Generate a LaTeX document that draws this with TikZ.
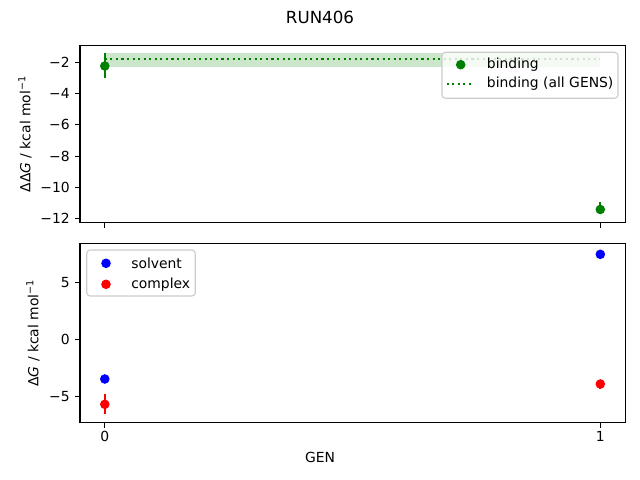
\documentclass[tikz,border=0pt]{standalone}
\usepackage{fontspec}
\setmainfont{DejaVu Sans}
\usepackage{tikz}

\definecolor{mplgreen}{HTML}{008000}
\definecolor{mplblue}{HTML}{0000FF}
\definecolor{mplred}{HTML}{FF0000}
\definecolor{legframe}{HTML}{CCCCCC}

\begin{document}
\begin{tikzpicture}[x=0.72pt,y=-0.72pt,
    spine/.style={line width=0.8pt},
    tickmark/.style={line width=0.8pt},
    lbl/.style={inner sep=0pt, font=\fontsize{10}{12}\selectfont},
    errbar/.style={line width=1.5pt},
    legbox/.style={draw=legframe, fill=white, fill opacity=0.8, rounded corners=2.5pt, line width=0.8pt}]
             \useasboundingbox (0,0) rectangle (640,480);

             \node[lbl, font=\fontsize{12}{14}\selectfont] (title) at (320, 17) {RUN406};

             % top panel: binding
             \fill[mplgreen, opacity=0.2] (104.8, 53.3) rectangle (600.3, 66.7);
             \draw[mplgreen, line width=1.5pt, dash pattern=on 1.5pt off 2.5pt] (104.8, 59) -- (600.3, 59);
             \draw[mplgreen, errbar] (104.8, 53.3) -- (104.8, 78.3);
             \fill[mplgreen] (104.8, 66) circle (4.8);
             \draw[mplgreen, errbar] (600.3, 202) -- (600.3, 214);
             \fill[mplgreen] (600.3, 209.5) circle (4.8);

             \draw[spine] (80, 45.3) rectangle (625.7, 222.7);
             \foreach \v/\y in {-2/62.3, -4/93.6, -6/124.9, -8/156.2, -10/187.5, -12/218.7} {
                 \draw[tickmark] (80, \y) -- (75.1, \y);
                 \node[lbl, anchor=east] at (70, \y) {−\the\numexpr-\v\relax};
             }
             \foreach \x in {104.8, 600.3}
                 \draw[tickmark] (\x, 222.7) -- (\x, 227.6);
             \node[lbl, rotate=90] (ylabtop) at (25, 134) {ΔΔ\textit{G} / kcal mol\textsuperscript{−1}};

             \draw[legbox] (442, 52.3) rectangle (618, 98.3);
             \fill[mplgreen] (460.7, 64.7) circle (4.8);
             \draw[mplgreen, line width=1.5pt, dash pattern=on 1.5pt off 2.5pt] (446.7, 84) -- (473, 84);
             \node[lbl, anchor=west] (legbind) at (486.7, 64.7) {binding};
             \node[lbl, anchor=west] (legall) at (486.7, 84) {binding (all GENS)};

             % bottom panel: solvent and complex
             \fill[mplblue] (104.8, 379) circle (4.8);
             \draw[mplred, errbar] (104.8, 394.3) -- (104.8, 413.7);
             \fill[mplred] (104.8, 404.3) circle (4.8);
             \fill[mplblue] (600.3, 254.3) circle (4.8);
             \draw[mplred, errbar] (600.3, 379.5) -- (600.3, 388.5);
             \fill[mplred] (600.3, 384) circle (4.8);

             \draw[spine] (80, 243.3) rectangle (625.7, 422.7);
             \foreach \y/\t in {282.3/5, 339.3/0, 396.3/−5} {
                 \draw[tickmark] (80, \y) -- (75.1, \y);
                 \node[lbl, anchor=east] at (70, \y) {\t};
             }
             \foreach \x/\t in {104.8/0, 600.3/1} {
                 \draw[tickmark] (\x, 422.7) -- (\x, 427.6);
                 \node[lbl] at (\x, 436.7) {\t};
             }
             \node[lbl, rotate=90] (ylabbot) at (33, 333) {Δ\textit{G} / kcal mol\textsuperscript{−1}};
             \node[lbl] (xlab) at (320, 457) {GEN};

             \draw[legbox] (86.7, 250) rectangle (195.3, 296);
             \fill[mplblue] (106, 263.3) circle (4.8);
             \fill[mplred] (106, 284.3) circle (4.8);
             \node[lbl, anchor=west] (legsolv) at (131, 263.3) {solvent};
             \node[lbl, anchor=west] (legcomp) at (131, 284.3) {complex};
             \end{tikzpicture}
\end{document}
